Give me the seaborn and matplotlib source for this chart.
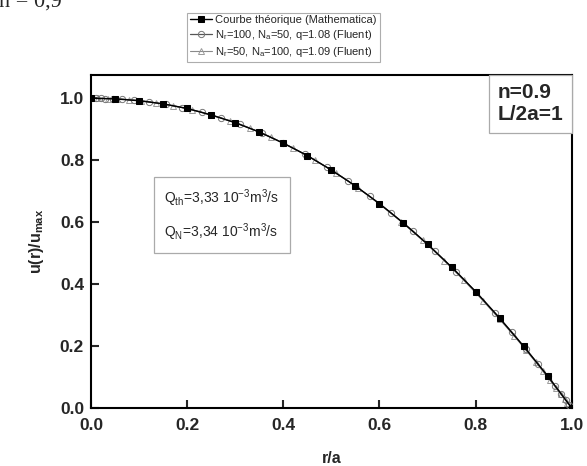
import numpy as np
import pandas as pd
import matplotlib.pyplot as plt
from matplotlib.offsetbox import AnchoredText
import seaborn as sns

# ------------------------------------------------------------
# values
# ------------------------------------------------------------
R_THEO = [0.00, 0.05, 0.10, 0.15, 0.20, 0.25, 0.30, 0.35, 0.40, 0.45, 0.50,
          0.55, 0.60, 0.65, 0.70, 0.75, 0.80, 0.85, 0.90, 0.95, 1.00]
U_THEO = [1.000, 0.998, 0.992, 0.982, 0.967, 0.946, 0.921, 0.891, 0.855, 0.815, 0.768,
          0.717, 0.660, 0.597, 0.529, 0.455, 0.376, 0.290, 0.199, 0.103, 0.000]

R_CIRC = [0.000, 0.010, 0.020, 0.030, 0.045, 0.065, 0.090, 0.120, 0.155, 0.190, 0.230,
          0.270, 0.310, 0.355, 0.400, 0.445, 0.490, 0.535, 0.580, 0.625, 0.670, 0.715,
          0.760, 0.800, 0.840, 0.875, 0.905, 0.930, 0.950, 0.965, 0.978, 0.988, 0.995, 1.000]
U_CIRC = [1.000, 1.000, 1.000, 0.999, 0.999, 0.997, 0.994, 0.989, 0.980, 0.970, 0.955,
          0.937, 0.916, 0.888, 0.855, 0.819, 0.778, 0.733, 0.683, 0.629, 0.571, 0.507,
          0.440, 0.376, 0.308, 0.246, 0.190, 0.142, 0.103, 0.072, 0.046, 0.025, 0.011, 0.000]

R_TRI = [0.000, 0.015, 0.035, 0.055, 0.080, 0.105, 0.135, 0.170, 0.210, 0.250, 0.290,
         0.330, 0.375, 0.420, 0.465, 0.510, 0.555, 0.600, 0.645, 0.690, 0.735, 0.775,
         0.815, 0.850, 0.880, 0.905, 0.925, 0.940, 0.955, 0.967, 0.977, 0.985, 0.991, 0.996, 1.000]
U_TRI = [1.000, 1.000, 0.999, 0.998, 0.995, 0.991, 0.985, 0.976, 0.963, 0.946, 0.927,
         0.904, 0.874, 0.840, 0.801, 0.759, 0.711, 0.658, 0.602, 0.541, 0.475, 0.413,
         0.347, 0.286, 0.233, 0.186, 0.148, 0.118, 0.089, 0.065, 0.045, 0.029, 0.017, 0.007, 0.000]

LABELS = [
    "Courbe théorique (Mathematica)",
    r"$\mathregular{N_r}$=100, $\mathregular{N_a}$=50, q=1.08 (Fluent)",
    r"$\mathregular{N_r}$=50, $\mathregular{N_a}$=100, q=1.09 (Fluent)",
]

TICKS = [0.0, 0.2, 0.4, 0.6, 0.8, 1.0]

sns.set_theme(style="ticks")
plt.rcParams["font.family"] = ["Liberation Sans", "DejaVu Sans"]
plt.rcParams["mathtext.fontset"] = "custom"
plt.rcParams["mathtext.rm"] = "Liberation Sans"
plt.rcParams["mathtext.it"] = "Liberation Sans:italic"
plt.rcParams["mathtext.bf"] = "Liberation Sans:bold"
plt.rcParams["mathtext.default"] = "regular"
plt.rcParams["axes.unicode_minus"] = False

fig = plt.figure(figsize=(5.87, 4.66), dpi=100)
ax = fig.add_axes([0.155, 0.1245, 0.819, 0.7145])

df_theo = pd.DataFrame({"r": R_THEO, "u": U_THEO})
df_circ = pd.DataFrame({"r": R_CIRC, "u": U_CIRC})
df_tri = pd.DataFrame({"r": R_TRI, "u": U_TRI})

sns.lineplot(data=df_tri, x="r", y="u", ax=ax, sort=False, estimator=None,
             color="#8a8a8a", lw=0.8, marker="^", markersize=5,
             markerfacecolor="none", markeredgecolor="#9a9a9a", markeredgewidth=0.7,
             label=LABELS[2], zorder=2)
sns.lineplot(data=df_circ, x="r", y="u", ax=ax, sort=False, estimator=None,
             color="#555555", lw=0.9, marker="o", markersize=4.5,
             markerfacecolor="none", markeredgecolor="#777777", markeredgewidth=0.7,
             label=LABELS[1], zorder=3)
sns.lineplot(data=df_theo, x="r", y="u", ax=ax, sort=False, estimator=None,
             color="black", lw=1.0, marker="s", markersize=5,
             markerfacecolor="black", markeredgecolor="black",
             label=LABELS[0], zorder=4)

ax.set_xlim(0, 1.0)
ax.set_ylim(0, 1.075)
ax.set_xticks(TICKS)
ax.set_yticks(TICKS)
ax.set_xticklabels([f"{v:.1f}" for v in TICKS], fontsize=12.5, fontweight="bold")
ax.set_yticklabels([f"{v:.1f}" for v in TICKS], fontsize=12.5, fontweight="bold")
ax.tick_params(axis="both", direction="in", length=6, width=1.5)
ax.tick_params(axis="x", pad=7)
ax.tick_params(axis="y", pad=5)
for sp in ax.spines.values():
    sp.set_linewidth(1.5)
    sp.set_color("black")

ax.set_xlabel("r/a", fontsize=11.5, fontweight="bold", labelpad=13)
ax.set_ylabel(r"u(r)/u$_{\mathregular{max}}$", fontsize=11.5, fontweight="bold", labelpad=10)

# legend above the axes
handles, labels = ax.get_legend_handles_labels()
order = [labels.index(l) for l in LABELS]
leg = ax.legend([handles[i] for i in order], [labels[i] for i in order],
                loc="lower center", bbox_to_anchor=(0.40, 1.04), fontsize=8,
                frameon=True, fancybox=False, edgecolor="#999999",
                handlelength=2.0, handletextpad=0.3, borderpad=0.25,
                labelspacing=0.25, borderaxespad=0)
leg.get_frame().set_linewidth(0.8)

# flow rates box
ax.text(0.152, 0.58,
        "Q$_{th}$=3,33 10$^{-3}$m$^3$/s\nQ$_{N}$=3,34 10$^{-3}$m$^3$/s",
        transform=ax.transAxes, fontsize=10, va="center", ha="left", linespacing=1.8,
        bbox=dict(boxstyle="square,pad=0.75", facecolor="white", edgecolor="#aaaaaa", lw=0.9))

# parameter box in the upper right corner
at = AnchoredText("n=0.9\nL/2a=1", loc="upper right", frameon=True, borderpad=0.0, pad=0.4,
                  prop=dict(fontsize=15, fontweight="bold", linespacing=1.2))
at.patch.set_edgecolor("#aaaaaa")
at.patch.set_linewidth(0.9)
ax.add_artist(at)

# clipped caption fragment at the very top
fig.text(-0.002, 0.985, "n = 0,9", fontsize=16, family="Liberation Serif", va="baseline", ha="left")

fig.savefig("out.png", dpi=100)
